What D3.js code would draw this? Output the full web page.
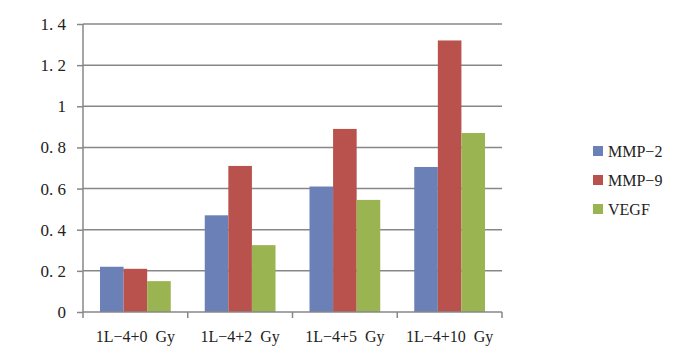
<!DOCTYPE html>
<html>
<head>
<meta charset="utf-8">
<script src="https://cdn.jsdelivr.net/npm/d3@7"></script>
<style>
  body { margin: 0; background: #fff; }
  text { font-family: "Liberation Serif", "DejaVu Serif", serif; fill: #222; }
</style>
</head>
<body>
<div id="chart"></div>
<script>
// data
var categories = ["1L-4+0 Gy", "1L-4+2 Gy", "1L-4+5 Gy", "1L-4+10 Gy"];
var seriesNames = ["MMP-2", "MMP-9", "VEGF"];
var mmp2 = [0.22, 0.47, 0.61, 0.705];
var mmp9 = [0.21, 0.71, 0.89, 1.32];
var vegf = [0.15, 0.325, 0.545, 0.87];
var yTicks = [0, 0.2, 0.4, 0.6, 0.8, 1, 1.2, 1.4];
var colors = ["#6a80b7", "#b9524c", "#9ab451"];

var values = [mmp2, mmp9, vegf];

var width = 700, height = 362;
var margin = { top: 24, right: 198, bottom: 50, left: 83 };

var svg = d3.select("#chart").append("svg")
    .attr("width", width)
    .attr("height", height);

var x = d3.scaleBand()
    .domain(categories)
    .range([margin.left, width - margin.right]);

var xInner = d3.scaleBand()
    .domain(seriesNames)
    .range([17, x.bandwidth() - 17]);

var y = d3.scaleLinear()
    .domain([0, 1.4])
    .range([height - margin.bottom, margin.top]);

// gridlines
svg.append("g")
    .selectAll("line")
    .data(yTicks.slice(1))
    .join("line")
    .attr("x1", margin.left)
    .attr("x2", width - margin.right)
    .attr("y1", function(d) { return y(d); })
    .attr("y2", function(d) { return y(d); })
    .attr("stroke", "#878787")
    .attr("stroke-width", 1.5);

// bars
var rows = [];
categories.forEach(function(c, i) {
    seriesNames.forEach(function(s, j) {
        rows.push({ cat: c, series: s, value: values[j][i], color: colors[j] });
    });
});

svg.append("g")
    .selectAll("rect")
    .data(rows)
    .join("rect")
    .attr("x", function(d) { return x(d.cat) + xInner(d.series); })
    .attr("width", xInner.bandwidth())
    .attr("y", function(d) { return y(d.value); })
    .attr("height", function(d) { return y(0) - y(d.value); })
    .attr("fill", function(d) { return d.color; });

// y axis
var yAxis = svg.append("g")
    .attr("transform", "translate(" + margin.left + ",0)")
    .call(d3.axisLeft(y).tickValues(yTicks).tickSize(6).tickPadding(11)
        .tickFormat(function(d) { return d3.format("")(d).replace(".", ". "); }));
yAxis.selectAll("text").style("font-size", "17px").attr("fill", "#222");
yAxis.selectAll("line, path").attr("stroke", "#878787").attr("stroke-width", 1.5);
yAxis.select(".domain").attr("d", "M0," + y(1.4) + "V" + y(0));

// x axis
var xAxis = svg.append("g")
    .attr("transform", "translate(0," + y(0) + ")")
    .call(d3.axisBottom(x).tickSize(0).tickPadding(19));
xAxis.select(".domain").remove();
xAxis.selectAll("text").style("font-size", "16px").attr("fill", "#222")
    .text(function(d) { return d.replace("-", "\u2212").replace(" ", "\u2002"); });

svg.append("line")
    .attr("x1", margin.left).attr("x2", width - margin.right)
    .attr("y1", y(0)).attr("y2", y(0))
    .attr("stroke", "#878787").attr("stroke-width", 1.5);

svg.append("g")
    .selectAll("line")
    .data(categories.map(function(c) { return x(c); }).concat([width - margin.right]))
    .join("line")
    .attr("x1", function(d) { return d; })
    .attr("x2", function(d) { return d; })
    .attr("y1", y(0))
    .attr("y2", y(0) + 6)
    .attr("stroke", "#878787")
    .attr("stroke-width", 1.5);

// legend
var legend = svg.append("g")
    .selectAll("g")
    .data(seriesNames)
    .join("g")
    .attr("transform", function(d, i) { return "translate(593," + (146 + i * 29) + ")"; });

legend.append("rect")
    .attr("width", 10)
    .attr("height", 10)
    .attr("fill", function(d, i) { return colors[i]; });

legend.append("text")
    .attr("x", 15)
    .attr("y", 5)
    .attr("dy", "0.35em")
    .style("font-size", "16px")
    .text(function(d) { return d.replace("-", "\u2212"); });
</script>
</body>
</html>
